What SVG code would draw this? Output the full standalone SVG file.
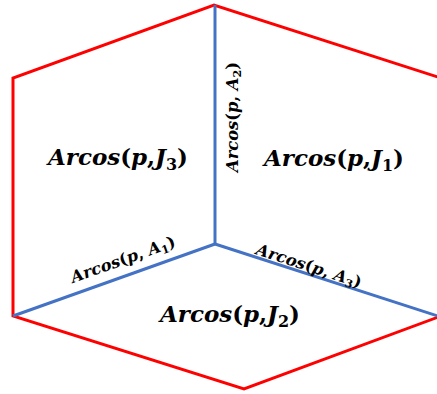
<svg xmlns="http://www.w3.org/2000/svg" width="437" height="394" viewBox="0 0 437 394">
<style>
.red{fill:none;stroke:#FF0000;stroke-width:3;stroke-linejoin:miter}
.blue{fill:none;stroke:#4472C4;stroke-width:3}
.big{font-family:"DejaVu Serif","Liberation Serif",serif;font-weight:bold;font-style:italic;font-size:23px;fill:#000}
.small{font-family:"DejaVu Serif","Liberation Serif",serif;font-weight:bold;font-style:italic;font-size:16px;fill:#000}
.up{font-style:normal}
</style>
<rect width="437" height="394" fill="#fff"/>
<g id="connectors">
<polyline class="red" points="441,78 214,5 13,78 13,316 244,389 441,316"/>
<line class="blue" x1="215" y1="244" x2="215" y2="5"/>
<line class="blue" x1="215" y1="244" x2="13" y2="316"/>
<line class="blue" x1="215" y1="244" x2="441" y2="317"/>
</g>
<g id="J3"><text class="big" x="48" y="165" textLength="140" lengthAdjust="spacingAndGlyphs">Arcos<tspan class="up">(</tspan>p<tspan class="up">,</tspan>J<tspan class="up" font-size="16" dy="5">3</tspan><tspan class="up" dy="-5">)</tspan></text></g>
<g id="J1"><text class="big" x="264" y="166" textLength="140" lengthAdjust="spacingAndGlyphs">Arcos<tspan class="up">(</tspan>p<tspan class="up">,</tspan>J<tspan class="up" font-size="16" dy="5">1</tspan><tspan class="up" dy="-5">)</tspan></text></g>
<g id="J2"><text class="big" x="160" y="322" textLength="140" lengthAdjust="spacingAndGlyphs">Arcos<tspan class="up">(</tspan>p<tspan class="up">,</tspan>J<tspan class="up" font-size="16" dy="5">2</tspan><tspan class="up" dy="-5">)</tspan></text></g>
<g id="A2"><text class="small" transform="translate(238,172) rotate(-90)" x="0" y="0" textLength="110" lengthAdjust="spacingAndGlyphs">Arcos<tspan class="up">(</tspan>p<tspan class="up">, </tspan>A<tspan class="up" font-size="11" dy="3">2</tspan><tspan class="up" dy="-3">)</tspan></text></g>
<g id="A1"><text class="small" transform="translate(73,283) rotate(-19.6)" x="0" y="0" textLength="110" lengthAdjust="spacingAndGlyphs">Arcos<tspan class="up">(</tspan>p<tspan class="up">, </tspan>A<tspan class="up" font-size="11" dy="3">1</tspan><tspan class="up" dy="-3">)</tspan></text></g>
<g id="A3"><text class="small" transform="translate(255,254) rotate(18)" x="0" y="0" textLength="110" lengthAdjust="spacingAndGlyphs">Arcos<tspan class="up">(</tspan>p<tspan class="up">, </tspan>A<tspan class="up" font-size="11" dy="3">3</tspan><tspan class="up" dy="-3">)</tspan></text></g>
</svg>
